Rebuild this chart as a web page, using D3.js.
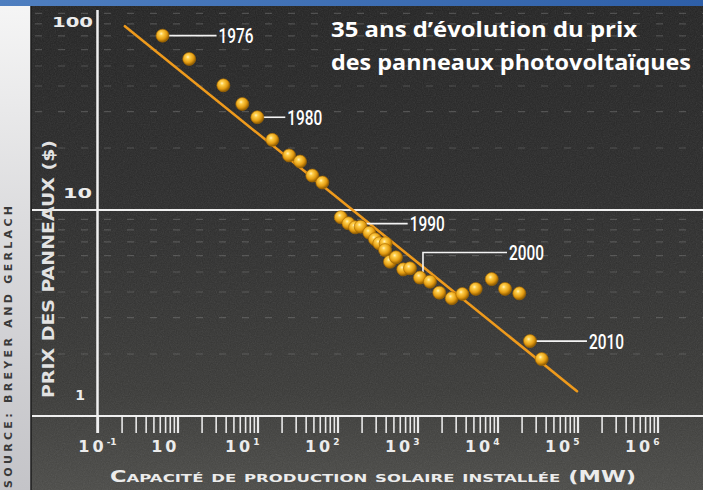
<!DOCTYPE html>
<html><head><meta charset="utf-8">
<script src="https://cdn.jsdelivr.net/npm/d3@7"></script>
<style>body{margin:0;background:#2a2a2a;overflow:hidden} svg{display:block}</style>
</head><body>
<svg id="chart" width="703" height="490"></svg>
<script>
// ---------- data ----------
const capacityMW = [0.65,1.4,3.74,6.46,9.94,15.3,24.8,34.0,48.4,64.6,110,137,166,195,250,294,333,400,393,453,538,664,805,1074,1432,1873,2676,3631,5340,8462,12416,18730,25470,35680];
const priceUSD   = [70.2,54.1,40.3,32.7,28.2,21.9,18.4,17.2,14.7,13.6,9.22,8.62,8.24,8.30,7.76,7.21,6.89,6.89,6.39,5.61,5.89,5.15,5.21,4.70,4.49,3.97,3.73,3.91,4.14,4.62,4.14,3.94,2.31,1.89];
const trendCapacity = [0.22, 98600];
const trendPrice = [78, 1.32];
const annotationLabels = ["1976","1980","1990","2000","2010"];
const annotationIndex = [0,4,13,23,32];
const xTickValues = [0.1,1,10,100,1000,10000,100000,1000000];
const xTickBase = ["10","10","10","10","10","10","10","10"];
const xTickExp = ["-1","","1","2","3","4","5","6"];
const yTickValues = [1,10,100];
const yTickLabels = ["1","10","100"];
const titleLines = ["35 ans d\u2019évolution du prix","des panneaux photovoltaïques"];
const yAxisTitle = "PRIX DES PANNEAUX ($)";
const xAxisTitle = "Capacité de production solaire installée (MW)";
const sourceText = "SOURCE: BREYER AND GERLACH";

// ---------- layout ----------
const W = 703, H = 490;
const svg = d3.select("#chart");
const x = d3.scaleLog().domain([0.1, 1e6]).range([97.5, 657.5]);
const y = d3.scaleLog().domain([1, 100]).range([416, 4]);
const plotLeft = 32;

const defs = svg.append("defs");
const bg = defs.append("linearGradient").attr("id","bg").attr("x1",0).attr("y1",0).attr("x2",0).attr("y2",1);
[[0,"#222222"],[0.4,"#2a2a2a"],[0.8,"#393937"],[1,"#4a4a47"]].forEach(s=>bg.append("stop").attr("offset",s[0]).attr("stop-color",s[1]));
const strip = defs.append("linearGradient").attr("id","strip").attr("x1",0).attr("y1",0).attr("x2",0).attr("y2",1);
[[0,"#f6f6f6"],[0.45,"#dcdcde"],[1,"#c4c4c8"]].forEach(s=>strip.append("stop").attr("offset",s[0]).attr("stop-color",s[1]));
const blue = defs.append("linearGradient").attr("id","blue").attr("x1",0).attr("y1",0).attr("x2",1).attr("y2",0);
[[0,"#4f7fc0"],[1,"#2e5fa8"]].forEach(s=>blue.append("stop").attr("offset",s[0]).attr("stop-color",s[1]));
const dotG = defs.append("radialGradient").attr("id","dot").attr("cx","40%").attr("cy","35%").attr("r","65%");
[[0,"#fff4c4"],[0.22,"#ffcf4a"],[0.65,"#e39c12"],[1,"#8c5a02"]].forEach(s=>dotG.append("stop").attr("offset",s[0]).attr("stop-color",s[1]));
const noise = defs.append("filter").attr("id","noise").attr("x",0).attr("y",0).attr("width","100%").attr("height","100%");
noise.append("feTurbulence").attr("type","fractalNoise").attr("baseFrequency",0.85).attr("numOctaves",2).attr("seed",4);
noise.append("feColorMatrix").attr("type","saturate").attr("values",0);
const ct = noise.append("feComponentTransfer");
ct.append("feFuncA").attr("type","table").attr("tableValues","0 0.14");

// background
svg.append("rect").attr("width",W).attr("height",H).attr("fill","url(#bg)");
svg.append("rect").attr("width",W).attr("height",H).attr("filter","url(#noise)");
// left source strip
svg.append("rect").attr("x",0).attr("y",0).attr("width",plotLeft-1).attr("height",H).attr("fill","url(#strip)");
svg.append("line").attr("x1",plotLeft-1).attr("x2",plotLeft-1).attr("y1",0).attr("y2",H).attr("stroke","#1c1c1c").attr("stroke-width",1.5);
// top blue band
svg.append("rect").attr("x",0).attr("y",0).attr("width",W).attr("height",6).attr("fill","url(#blue)");

// minor dashed gridlines
const minorY = y.ticks().filter(v => ![1,10,100].includes(v));
svg.append("g").selectAll("line").data(minorY).join("line")
  .attr("x1",plotLeft+3).attr("x2",W).attr("y1",d=>y(d)).attr("y2",d=>y(d))
  .attr("stroke","#9a9a9a").attr("stroke-opacity",0.33).attr("stroke-width",1.2)
  .attr("stroke-dasharray","7,16");

// solid white line at 10
svg.append("line").attr("x1",plotLeft).attr("x2",W).attr("y1",y(10)).attr("y2",y(10))
  .attr("stroke","#f0f0f0").attr("stroke-width",2);

// x axis
const xAxis = d3.axisBottom(x).tickValues(x.ticks()).tickSize(17).tickFormat("");
const gx = svg.append("g").attr("transform",`translate(0,${y(1)})`).call(xAxis);
gx.select(".domain").remove();
gx.selectAll(".tick line").attr("stroke","#e8e8e8")
  .attr("stroke-width",d => xTickValues.includes(d) ? 2.2 : 1.6);
svg.append("line").attr("x1",plotLeft).attr("x2",W).attr("y1",y(1)).attr("y2",y(1))
  .attr("stroke","#f0f0f0").attr("stroke-width",2);
// y axis line
svg.append("line").attr("x1",x(0.1)).attr("x2",x(0.1)).attr("y1",10).attr("y2",y(1)+17)
  .attr("stroke","#f0f0f0").attr("stroke-width",2.5);

// x tick labels
const tickFont = "'DejaVu Sans', Verdana, sans-serif";
const xl = svg.append("g").attr("font-family",tickFont).attr("font-weight","bold").attr("fill","#ececec");
xTickValues.forEach((v,i) => {
  const t = xl.append("text").attr("y",452).attr("font-size",16).attr("letter-spacing",3)
    .attr("x", i===0 ? x(v) : x(v)+2).attr("text-anchor", i===0 ? "middle" : "end");
  t.append("tspan").text(xTickBase[i]);
  if (xTickExp[i]) t.append("tspan").attr("font-size",9).attr("dy",-7).attr("letter-spacing",0).text(xTickExp[i]);
});
// y tick labels
const yLabelDy = [-16, -12, 23];
const yLabelX = [85, 92, 93];
const yLabelLen = [0, 29, 41];
const yl = svg.append("g").attr("font-family",tickFont).attr("font-weight","bold").attr("fill","#ececec");
yTickValues.forEach((v,i) => {
  const t = yl.append("text").attr("x",yLabelX[i]).attr("y",y(v)+yLabelDy[i]).attr("text-anchor","end")
    .attr("font-size",14).text(yTickLabels[i]);
  if (yLabelLen[i]) t.attr("textLength",yLabelLen[i]).attr("lengthAdjust","spacingAndGlyphs");
});

// axis titles
svg.append("text").attr("transform",`translate(54,398) rotate(-90)`)
  .attr("font-family",tickFont).attr("font-weight","bold").attr("font-size",15).attr("fill","#e2e2e2")
  .attr("textLength",258).attr("lengthAdjust","spacingAndGlyphs").text(yAxisTitle);
svg.append("text").attr("x",110).attr("y",482)
  .attr("font-family",tickFont).attr("font-weight","bold").attr("font-size",15).attr("fill","#ececec")
  .style("font-variant","small-caps")
  .attr("textLength",526).attr("lengthAdjust","spacingAndGlyphs").text(xAxisTitle);
// source
svg.append("text").attr("transform",`translate(12,488) rotate(-90)`)
  .attr("font-family",tickFont).attr("font-weight","bold").attr("font-size",11).attr("fill","#3a3a3a")
  .attr("textLength",282).attr("lengthAdjust","spacing").text(sourceText);

// title
const titleFont = "'Open Sans', 'Noto Sans', sans-serif";
const titleLen = [306, 360];
titleLines.forEach((t,i) => {
  svg.append("text").attr("x",331).attr("y",37+i*33)
    .attr("font-family",titleFont).attr("font-weight",700).attr("font-size",21).attr("fill","#ffffff")
    .attr("textLength",titleLen[i]).attr("lengthAdjust","spacingAndGlyphs").text(t);
});

// trend line
const trend = trendCapacity.map((c,i)=>[c,trendPrice[i]]);
svg.append("path").datum(trend)
  .attr("d", d3.line().x(d=>x(d[0])).y(d=>y(d[1])))
  .attr("stroke","#ee9a1c").attr("stroke-width",2.6).attr("stroke-linecap","round").attr("fill","none");

// annotations (leaders + labels)
const R = 6.5;
const annDx = [56, 30, 49, 89, 59];
const annDy = [0, 0, -3, -25, 0];
const ann = svg.append("g");
annotationIndex.forEach((idx,i) => {
  const px = x(capacityMW[idx]), py = y(priceUSD[idx]);
  const lx = px + annDx[i], ly = py + annDy[i];
  if (annDy[i] < -10) {
    ann.append("path").attr("d",`M${px+3},${py-R+1}V${ly}H${lx-2}`)
      .attr("fill","none").attr("stroke","#f4f4f4").attr("stroke-width",1.6);
  } else {
    ann.append("line").attr("x1",px+R-1).attr("x2",lx-2).attr("y1",ly).attr("y2",ly)
      .attr("stroke","#f4f4f4").attr("stroke-width",1.6);
  }
  ann.append("text").attr("x",lx).attr("y",ly+7.5)
    .attr("font-family","'Liberation Sans Narrow', 'Roboto', sans-serif").attr("font-weight",500)
    .attr("font-size",20).attr("fill","#ffffff")
    .attr("textLength",35).attr("lengthAdjust","spacingAndGlyphs").text(annotationLabels[i]);
});

// dots
svg.append("g").selectAll("circle").data(capacityMW.map((c,i)=>[c,priceUSD[i]])).join("circle")
  .attr("cx",d=>x(d[0])).attr("cy",d=>y(d[1])).attr("r",R)
  .attr("fill","url(#dot)").attr("stroke","#a86a00").attr("stroke-width",0.6);
</script>
</body></html>
